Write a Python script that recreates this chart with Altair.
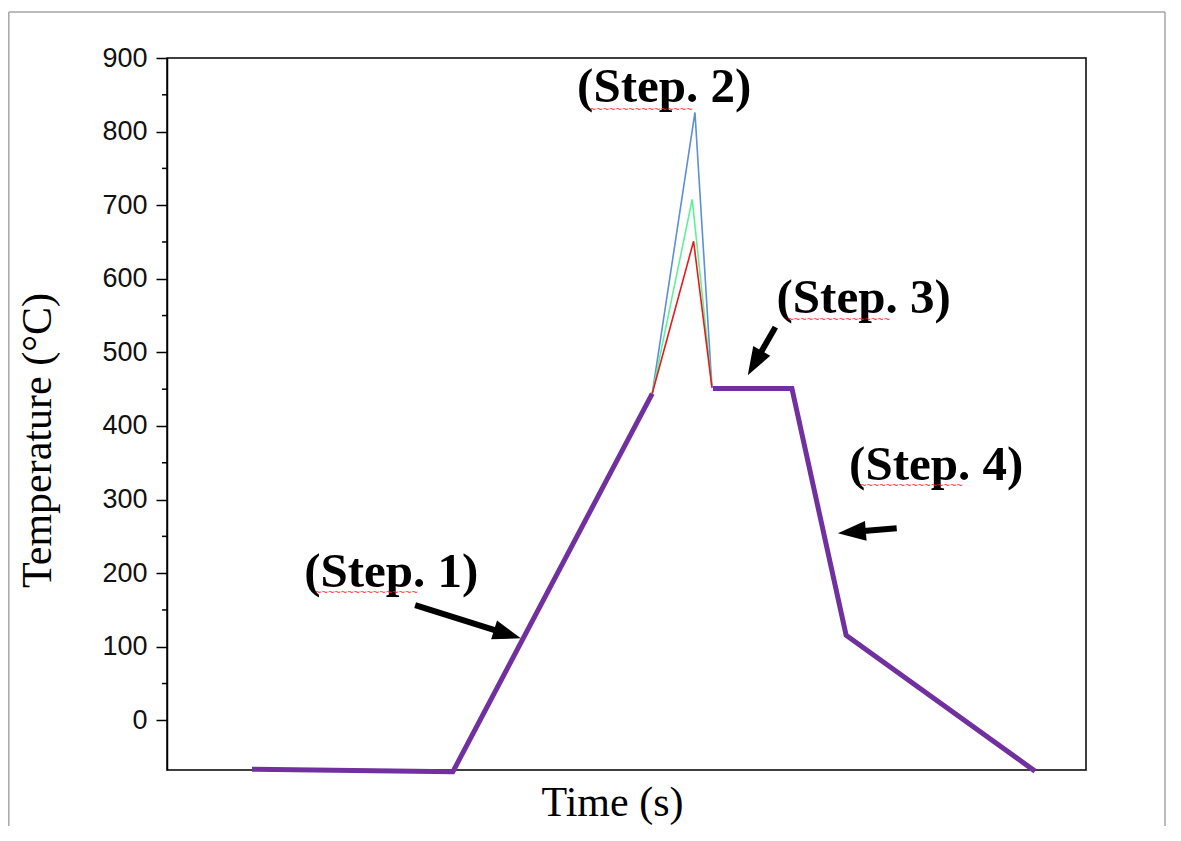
import math
import altair as alt
import pandas as pd

# ---------------- data ----------------
# main (purple) heat-treatment profile, two segments (before / after the peak)
main_time = [9.25, 31.1, 52.8, 59.4, 68.0, 73.9, 94.45]
main_temp = [-66.5, -70, 444, 451, 451, 115.5, -69]
main_segment = [0, 0, 0, 1, 1, 1, 1]

# short peak excursions (Step 2)
peak_names = ["blue", "green", "red"]
peak_time = [[52.8, 57.45, 59.3], [52.8, 57.15, 59.3], [52.8, 57.3, 59.3]]
peak_temp = [[444, 826, 452], [444, 708, 452], [444, 651, 452]]
peak_colors = ["#5b8fd6", "#5df29a", "#e8191c"]

# annotations
step_labels = ["(Step. 1)", "(Step. 2)", "(Step. 3)", "(Step. 4)"]
step_x = [24.4, 54.1, 75.8, 83.7]
step_y = [180.7, 840, 553, 326]
squiggle_x = [21.7, 51.6, 73.1, 81.0]
squiggle_y = [172.5, 828.8, 543.5, 318]

arrow_tail_x = [27.0, 66.2, 79.4]
arrow_tail_y = [156.4, 534.3, 261.0]
arrow_tip_x = [38.5, 63.2, 73.0]
arrow_tip_y = [111.5, 469.0, 254.2]

major_ticks = list(range(0, 901, 100))
minor_ticks = list(range(50, 900, 100))

# ---------------- layout ----------------
W, H = 919, 712
X_DOMAIN = [0, 100]
Y_DOMAIN = [-67.5, 900]
PX_X = W / (X_DOMAIN[1] - X_DOMAIN[0])
PX_Y = H / (Y_DOMAIN[1] - Y_DOMAIN[0])
PAD = {"left": 159, "top": 50, "right": 80, "bottom": 56}
RIGHT_EDGE = W + PAD["right"] - 1

main_df = pd.DataFrame({"t": main_time, "T": main_temp, "seg": main_segment,
                        "i": range(len(main_time))})

rows = []
for name, ts, Ts in zip(peak_names, peak_time, peak_temp):
    for i, (t, T) in enumerate(zip(ts, Ts)):
        rows.append({"series": name, "t": t, "T": T, "i": i})
peak_df = pd.DataFrame(rows)

label_df = pd.DataFrame({"label": step_labels, "x": step_x, "y": step_y})
squig_df = pd.DataFrame({"x": squiggle_x, "y": squiggle_y, "s": ["~" * 16] * 4})
minor_df = pd.DataFrame({"v": minor_ticks})

arows = []
for tx, ty, hx, hy in zip(arrow_tail_x, arrow_tail_y, arrow_tip_x, arrow_tip_y):
    dxp = (hx - tx) * PX_X
    dyp = -(hy - ty) * PX_Y
    L = math.hypot(dxp, dyp)
    ang = math.degrees(math.atan2(dxp, -dyp)) % 360
    back = 14.0
    ex = hx - (dxp / L) * back / PX_X
    ey = hy + (dyp / L) * back / PX_Y
    arows.append({"tx": tx, "ty": ty, "ex": ex, "ey": ey, "hx": hx, "hy": hy, "ang": ang})
arrow_df = pd.DataFrame(arows)

xs = alt.Scale(domain=X_DOMAIN, nice=False, zero=False)
ys = alt.Scale(domain=Y_DOMAIN, nice=False, zero=False)

x_axis = alt.Axis(
    ticks=False, labels=False, domain=False, grid=False,
    title="Time (s)", titleFont="Liberation Serif", titleFontSize=42,
    titleFontWeight="normal", titleColor="#000000",
    titleX=445, titleY=45, titleBaseline="alphabetic", titleAlign="center",
)
y_axis = alt.Axis(
    values=major_ticks, grid=False,
    labelFont="Liberation Sans", labelFontSize=27, labelColor="#111111",
    labelPadding=9, labelBaseline="middle",
    tickColor="#000000", tickWidth=1.5, tickSize=11,
    domainColor="#000000", domainWidth=1.5,
    title="Temperature (°C)", titleFont="Liberation Serif", titleFontSize=42,
    titleFontWeight="normal", titleColor="#000000",
    titleX=-117, titleY=382, titleAngle=-90, titleBaseline="alphabetic", titleAlign="center",
)

peaks = alt.Chart(peak_df).mark_line(strokeWidth=1.6, clip=False).encode(
    x=alt.X("t:Q", scale=xs, axis=x_axis),
    y=alt.Y("T:Q", scale=ys, axis=y_axis),
    color=alt.Color("series:N", scale=alt.Scale(domain=peak_names, range=peak_colors), legend=None),
    order="i:O",
)

main = alt.Chart(main_df).mark_line(color="#7030a0", strokeWidth=5, clip=False).encode(
    x=alt.X("t:Q", scale=xs),
    y=alt.Y("T:Q", scale=ys),
    detail="seg:N",
    order="i:O",
)

minor = alt.Chart(minor_df).mark_rule(color="#000000", strokeWidth=1.5).encode(
    y=alt.Y("v:Q", scale=ys), x=alt.value(-5), x2=alt.value(0),
)

labels = alt.Chart(label_df).mark_text(
    font="Liberation Serif", fontSize=49, fontWeight="bold", color="#000000",
    align="center", baseline="alphabetic",
).encode(x=alt.X("x:Q", scale=xs), y=alt.Y("y:Q", scale=ys), text="label:N")

squig = alt.Chart(squig_df).mark_text(
    font="Liberation Sans", fontSize=11, color="#ff2020", align="center", baseline="middle",
).encode(x=alt.X("x:Q", scale=xs), y=alt.Y("y:Q", scale=ys), text="s:N")

shafts = alt.Chart(arrow_df).mark_rule(color="#000000", strokeWidth=6).encode(
    x=alt.X("tx:Q", scale=xs), y=alt.Y("ty:Q", scale=ys),
    x2="ex:Q", y2="ey:Q",
)
heads = alt.Chart(arrow_df).mark_point(
    shape="M0,0L0.7,2L-0.7,2Z", filled=True, color="#000000", opacity=1, size=784,
).encode(
    x=alt.X("hx:Q", scale=xs), y=alt.Y("hy:Q", scale=ys), angle=alt.Angle("ang:Q", scale=None),
)

frame_df = pd.DataFrame({"k": [0]})
frame_left = alt.Chart(frame_df).mark_rule(color="#a6a6a6", strokeWidth=1.5).encode(
    x=alt.value(-158.2), y=alt.value(-46), y2=alt.value(H + PAD["bottom"]))
frame_top = alt.Chart(frame_df).mark_rule(color="#a6a6a6", strokeWidth=1.5).encode(
    x=alt.value(-158.2), x2=alt.value(RIGHT_EDGE), y=alt.value(-46))
frame_right = alt.Chart(frame_df).mark_rule(color="#a6a6a6", strokeWidth=1.5).encode(
    x=alt.value(RIGHT_EDGE), y=alt.value(-46), y2=alt.value(H + PAD["bottom"]))

chart = alt.layer(
    frame_left, frame_top, frame_right,
    peaks, main, minor, shafts, heads, labels, squig,
).properties(
    width=W, height=H,
    autosize=alt.AutoSizeParams(type="none"),
    padding=PAD,
    background="#ffffff",
).configure_view(
    stroke="#000000", strokeWidth=1.5,
)

chart.save("out.html", embed_options={"renderer": "svg", "actions": False})
